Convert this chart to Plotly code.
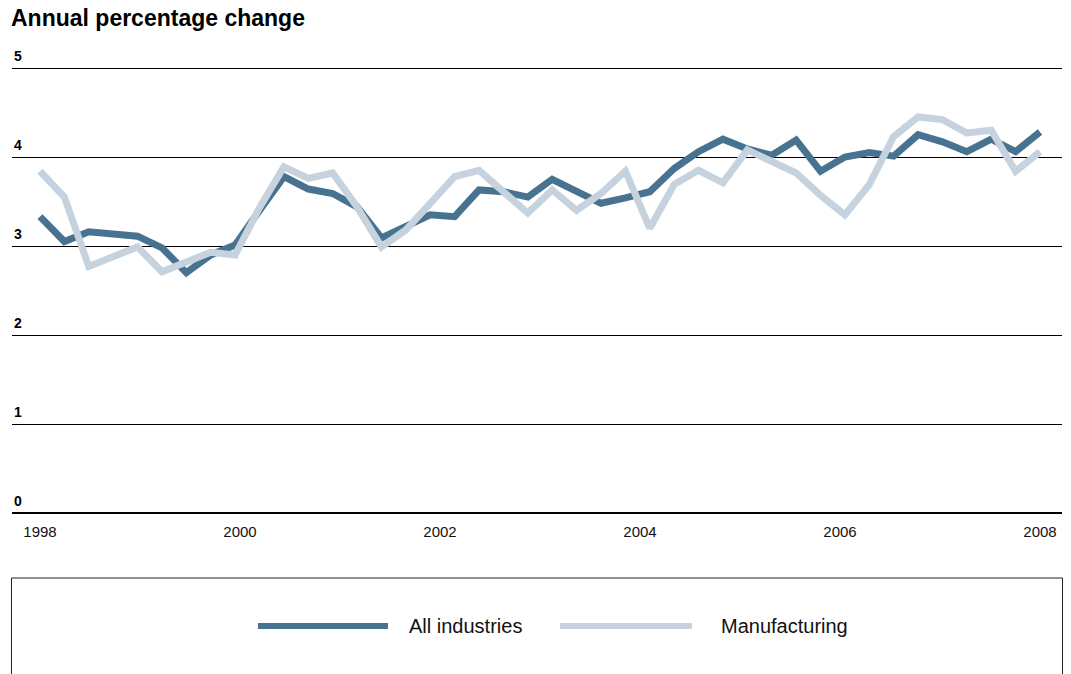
import numpy as np
import plotly.graph_objects as go

# Quarterly observations, first quarter of 1998 through the second quarter of 2008
n_quarters = 42
years = np.linspace(1998, 2008, n_quarters)

all_industries = [
    3.33, 3.05, 3.16, 3.14, 3.11, 2.98, 2.70, 2.90, 3.01, 3.40,
    3.78, 3.64, 3.59, 3.44, 3.09, 3.22, 3.35, 3.33, 3.63, 3.61,
    3.55, 3.75, 3.61, 3.48, 3.54, 3.61, 3.87, 4.06, 4.20, 4.09,
    4.02, 4.19, 3.84, 4.00, 4.05, 4.01, 4.25, 4.17, 4.06, 4.20,
    4.06, 4.28,
]
manufacturing = [
    3.84, 3.55, 2.77, 2.88, 2.99, 2.71, 2.82, 2.93, 2.90, 3.43,
    3.89, 3.76, 3.82, 3.44, 2.99, 3.18, 3.48, 3.78, 3.85, 3.61,
    3.37, 3.63, 3.40, 3.59, 3.84, 3.20, 3.69, 3.85, 3.71, 4.08,
    3.95, 3.82, 3.57, 3.35, 3.69, 4.23, 4.45, 4.42, 4.27, 4.30,
    3.84, 4.06,
]

series_names = ["All industries", "Manufacturing"]
series_colors = ["#477391", "#c6d2de"]
x_ticks = [1998, 2000, 2002, 2004, 2006, 2008]
y_ticks = [0, 1, 2, 3, 4, 5]

FONT = "Liberation Sans, Arial, Helvetica, sans-serif"

fig = go.Figure()
for name, values, color in zip(series_names, [all_industries, manufacturing], series_colors):
    fig.add_trace(go.Scatter(
        x=years, y=values, name=name, mode="lines",
        line=dict(color=color, width=7),
        showlegend=False,
    ))

# Legend panel drawn below the plot: framed box, long line samples and labels
shapes = [dict(
    type="rect", xref="paper", yref="paper",
    x0=-0.0005, x1=1.0005, y0=-0.42, y1=-0.1319,
    line=dict(color="#222222", width=1), fillcolor="rgba(0,0,0,0)",
)]
legend_items = [(0.2343, 0.3581, 0.3762), (0.5219, 0.6476, 0.6733)]
annotations = []
for (x0, x1, xt), name, color in zip(legend_items, series_names, series_colors):
    shapes.append(dict(
        type="line", xref="paper", yref="paper",
        x0=x0, x1=x1, y0=-0.2374, y1=-0.2374,
        line=dict(color=color, width=6),
    ))
    annotations.append(dict(
        xref="paper", yref="paper", x=xt, y=-0.2374,
        xanchor="left", yanchor="middle", showarrow=False,
        text=name, font=dict(family=FONT, size=20, color="#111111"),
    ))

# Value labels sit just above each horizontal gridline at the left edge
for t in y_ticks:
    annotations.append(dict(
        xref="paper", yref="y", x=0, y=t, yshift=12,
        xanchor="left", yanchor="middle", showarrow=False,
        text=f"<b>{t}</b>", font=dict(family=FONT, size=14, color="#000000"),
    ))

fig.update_layout(
    width=1071, height=674,
    margin=dict(l=12, r=9, t=63, b=156),
    paper_bgcolor="white", plot_bgcolor="white",
    title=dict(
        text="<b>Annual percentage change</b>",
        x=11 / 1071, xref="container", xanchor="left",
        y=1 - 18 / 674, yref="container", yanchor="middle",
        font=dict(family=FONT, size=23, color="#000000"),
    ),
    xaxis=dict(
        range=[1997.72, 2008.22],
        tickvals=x_ticks, ticktext=[str(t) for t in x_ticks],
        showgrid=False, zeroline=False, showline=False, ticks="",
        ticklabelstandoff=3,
        tickfont=dict(family=FONT, size=15, color="#111111"),
        fixedrange=True,
    ),
    yaxis=dict(
        range=[-0.0562, 5.0562],
        tickvals=y_ticks, showticklabels=False,
        showgrid=True, gridcolor="#000000", gridwidth=1,
        zeroline=True, zerolinecolor="#000000", zerolinewidth=2,
        showline=False, ticks="",
        fixedrange=True,
    ),
    shapes=shapes,
    annotations=annotations,
)

fig.write_html("out.html")
